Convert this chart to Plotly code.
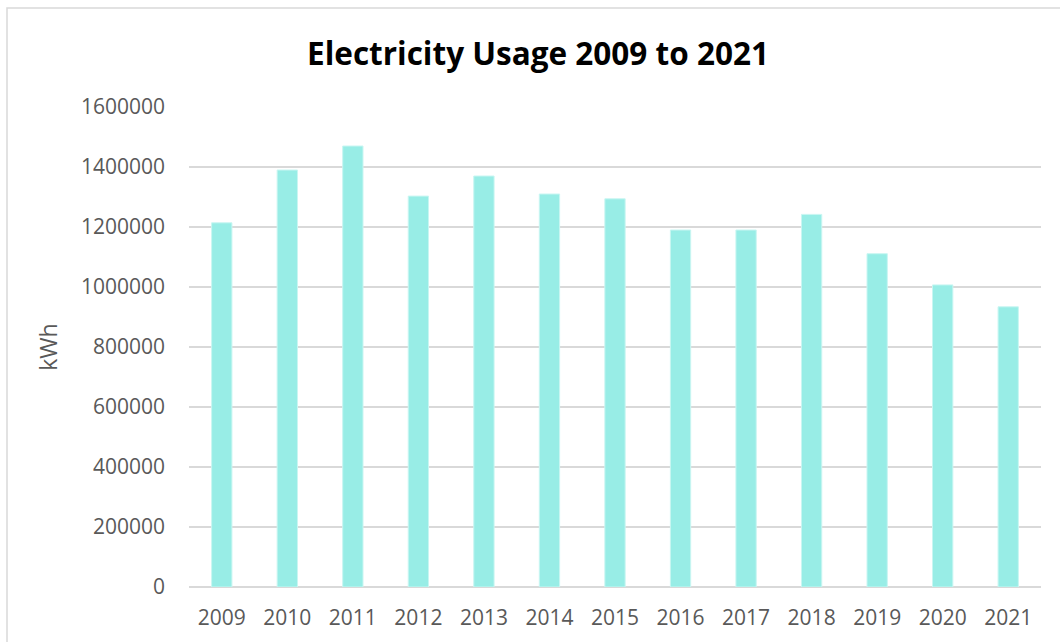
import plotly.graph_objects as go

years = ["2009", "2010", "2011", "2012", "2013", "2014", "2015",
         "2016", "2017", "2018", "2019", "2020", "2021"]
usage_kwh = [1214000, 1390000, 1470000, 1303000, 1370000, 1310000, 1294000,
             1190000, 1190000, 1242000, 1111000, 1007000, 934000]
y_ticks = [0, 200000, 400000, 600000, 800000, 1000000, 1200000, 1400000, 1600000]

FONT = "Open Sans"
GRID = "#D9D9D9"
TEXT = "#595959"

fig = go.Figure(
    go.Bar(
        x=years,
        y=usage_kwh,
        marker=dict(color="#98EDE6", line=dict(color="#C9F6F2", width=1)),
        width=0.31,
    )
)

L, R, T, B = 189, 19, 107, 55
W, H = 1060, 642
pw, ph = W - L - R, H - T - B

fig.update_layout(
    width=W,
    height=H,
    margin=dict(l=L, r=R, t=T, b=B),
    paper_bgcolor="white",
    plot_bgcolor="white",
    showlegend=False,
    title=dict(
        text="<b>Electricity Usage 2009 to 2021</b>",
        x=(538 - L) / pw, xref="paper", xanchor="center",
        y=1 - 54 / H, yref="container", yanchor="middle",
        font=dict(family=FONT, size=31.5, color="#000000"),
    ),
    font=dict(family=FONT, color=TEXT),
    xaxis=dict(
        type="category",
        showgrid=False,
        showline=False,
        zeroline=False,
        ticks="",
        tickfont=dict(family=FONT, size=21, color=TEXT),
        ticklabelstandoff=16,
    ),
    yaxis=dict(
        range=[0, 1600000],
        tickvals=y_ticks,
        ticktext=[str(v) for v in y_ticks],
        showgrid=True,
        gridcolor=GRID,
        gridwidth=1.5,
        zeroline=True,
        zerolinecolor=GRID,
        zerolinewidth=1.5,
        showline=False,
        ticks="",
        tickfont=dict(family=FONT, size=21, color=TEXT),
        ticklabelstandoff=23,
        title=dict(text="kWh", font=dict(family=FONT, size=23, color=TEXT), standoff=16),
    ),
    shapes=[
        dict(
            type="rect", xref="paper", yref="paper",
            x0=(7 - L) / pw, x1=(W + 10 - L) / pw,
            y0=(H - B - (H + 10)) / ph, y1=(H - B - 8) / ph,
            line=dict(color="#D9D9D9", width=1.5),
            fillcolor="rgba(0,0,0,0)",
            layer="below",
        )
    ],
)

fig.write_html("out.html")
